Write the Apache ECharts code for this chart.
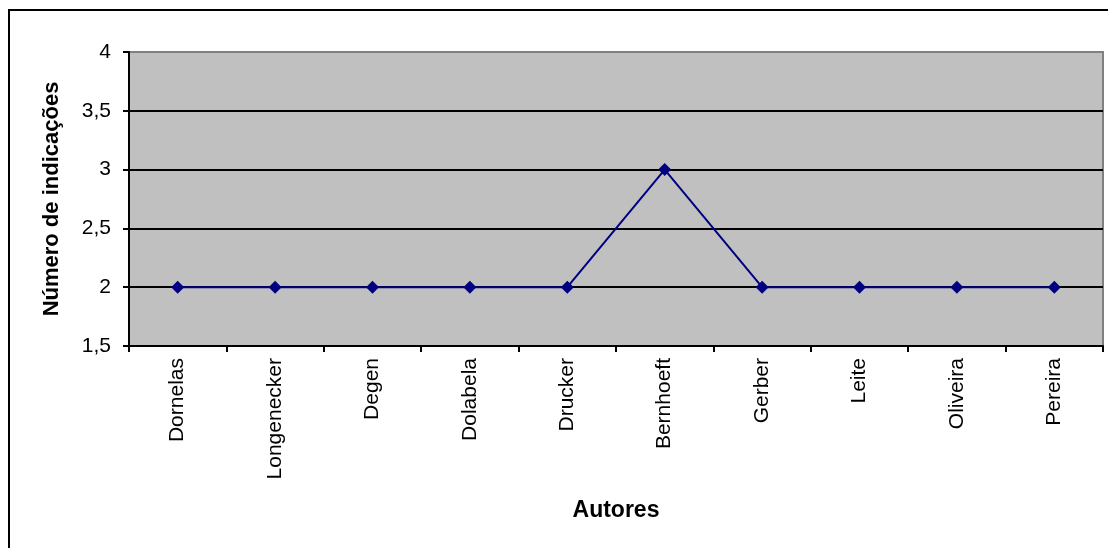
<!DOCTYPE html>
<html>
<head>
<meta charset="utf-8">
<script src="https://cdn.jsdelivr.net/npm/echarts@6/dist/echarts.min.js"></script>
<style>
  html, body { margin: 0; padding: 0; background: #fff; }
  #chart { width: 1108px; height: 548px; }
</style>
</head>
<body>
<div id="chart"></div>
<script>
// Authors and how many times each one was cited
const autores = ['Dornelas', 'Longenecker', 'Degen', 'Dolabela', 'Drucker', 'Bernhoeft', 'Gerber', 'Leite', 'Oliveira', 'Pereira'];
const indicacoes = [2, 2, 2, 2, 2, 3, 2, 2, 2, 2];
const yMin = 1.5;
const yMax = 4;
const yStep = 0.5;

const chart = echarts.init(document.getElementById('chart'), null, { renderer: 'canvas' });
const font = 'Liberation Sans, Arial, sans-serif';

chart.setOption({
  animation: false,
  backgroundColor: '#fff',
  graphic: [{
    type: 'rect',
    shape: { x: 9, y: 10, width: 1200, height: 700 },
    style: { fill: 'none', stroke: '#000', lineWidth: 2 },
    silent: true,
    z: -10
  }],
  grid: {
    left: 129, right: 5, top: 52, bottom: 202,
    show: true,
    backgroundColor: '#c0c0c0',
    borderColor: '#808080',
    borderWidth: 2
  },
  xAxis: {
    type: 'category',
    data: autores,
    boundaryGap: true,
    name: 'Autores',
    nameLocation: 'middle',
    nameGap: 153,
    nameTextStyle: { fontFamily: font, fontSize: 23, fontWeight: 'bold', color: '#000' },
    axisLine: { lineStyle: { color: '#000', width: 2 } },
    axisTick: { show: true, interval: 0, length: 6, lineStyle: { color: '#000', width: 2 } },
    axisLabel: { interval: 0, rotate: 90, margin: 12, fontFamily: font, fontSize: 21, color: '#000' },
    splitLine: { show: false }
  },
  yAxis: {
    type: 'value',
    min: yMin,
    max: yMax,
    interval: yStep,
    name: 'Número de indicações',
    nameLocation: 'middle',
    nameGap: 66,
    nameTextStyle: { fontFamily: font, fontSize: 22, fontWeight: 'bold', color: '#000' },
    axisLine: { show: true, lineStyle: { color: '#000', width: 2 } },
    axisTick: { show: true, length: 6, lineStyle: { color: '#000', width: 2 } },
    axisLabel: {
      margin: 18, fontFamily: font, fontSize: 21, color: '#000',
      formatter: v => String(v).replace('.', ',')
    },
    splitLine: { show: true, showMaxLine: false, lineStyle: { color: '#000', width: 2 } }
  },
  series: [{
    type: 'line',
    data: indicacoes,
    symbol: 'diamond',
    symbolSize: 13,
    itemStyle: { color: '#000080' },
    lineStyle: { color: '#000080', width: 2 },
    z: 5
  }]
});
</script>
</body>
</html>
